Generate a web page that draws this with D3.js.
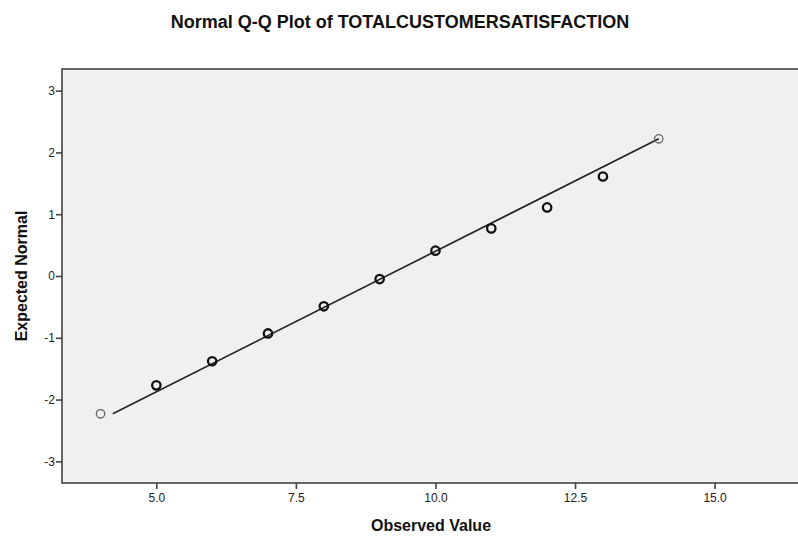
<!DOCTYPE html>
<html lang="en">
<head>
    <meta charset="UTF-8">
    <title>Normal Q-Q Plot</title>
    <script src="https://d3js.org/d3.v7.min.js"></script>
    <style>
        body { margin: 0; background: #fff; }
        text { font-family: "Liberation Sans", Arial, sans-serif; fill: #111; }
    </style>
</head>
<body>
    <div class="canvas"></div>
    <script>
      const observed = [4, 5, 6, 7, 8, 9, 10, 11, 12, 13, 14];
      const expected = [-2.23, -1.77, -1.38, -0.93, -0.49, -0.05, 0.41, 0.77, 1.11, 1.61, 2.22];
      // points drawn in a lighter grey (single cases)
      const lightPts = [4, 14];
      // reference line end points
      const lineX = [4.22, 14];
      const lineY = [-2.23, 2.22];
      const xTicks = [5, 7.5, 10, 12.5, 15];
      const yTicks = [-3, -2, -1, 0, 1, 2, 3];

      const width = 798;
      const height = 538;
      const [mt, mb, ml, mr] = [69, 55, 62, -2];

      const svg = d3.select('.canvas')
                      .append('svg')
                      .attr('width', width)
                      .attr('height', height);

      const x = d3.scaleLinear()
                    .domain([3.31, 16.53])
                    .range([ml, width - mr]);

      const y = d3.scaleLinear()
                    .domain([-3.35, 3.35])
                    .range([height - mb, mt]);

      // plot background + frame
      svg.append('rect')
          .attr('x', ml)
          .attr('y', mt)
          .attr('width', width - mr - ml)
          .attr('height', height - mb - mt)
          .style('fill', '#f0f0f0')
          .style('stroke', '#444')
          .style('stroke-width', 1.6);

      const xAxis = d3.axisBottom(x)
                        .tickValues(xTicks)
                        .tickSize(6)
                        .tickSizeOuter(0)
                        .tickFormat(d3.format('.1f'));
      const yAxis = d3.axisLeft(y)
                        .tickValues(yTicks)
                        .tickSize(6)
                        .tickSizeOuter(0)
                        .tickFormat(d => d);

      const xAxisG = svg.append('g')
                          .attr('transform', `translate(0, ${height - mb})`)
                          .call(xAxis);
      const yAxisG = svg.append('g')
                          .attr('transform', `translate(${ml}, 0)`)
                          .call(yAxis);

      [xAxisG, yAxisG].forEach(g => {
        g.select('.domain').remove();
        g.selectAll('line').style('stroke', '#444').style('stroke-width', 1.6);
        g.selectAll('text')
          .style('font-family', '"Liberation Sans", Arial, sans-serif')
          .style('font-size', '12px')
          .style('fill', '#222');
      });
      xAxisG.selectAll('text').attr('y', 10);
      yAxisG.selectAll('text').attr('x', -7);

      // reference line
      const line = d3.line()
                        .x(d => x(d[0]))
                        .y(d => y(d[1]));
      svg.append('path')
          .attr('d', line(d3.zip(lineX, lineY)))
          .attr('fill', 'none')
          .attr('stroke', '#222')
          .attr('stroke-width', 1.6);

      // points
      svg.selectAll('circle')
          .data(d3.zip(observed, expected))
          .enter()
          .append('circle')
          .attr('cx', d => x(d[0]))
          .attr('cy', d => y(d[1]))
          .attr('r', 4.2)
          .style('fill', 'none')
          .style('stroke', d => lightPts.includes(d[0]) ? '#666' : '#111')
          .style('stroke-width', d => lightPts.includes(d[0]) ? 1.3 : 2.3);

      // title and axis titles
      svg.append('text')
          .attr('x', 400)
          .attr('y', 28)
          .attr('text-anchor', 'middle')
          .style('font-size', '18px')
          .style('font-weight', 'bold')
          .text('Normal Q-Q Plot of TOTALCUSTOMERSATISFACTION');

      svg.append('text')
          .attr('x', (ml + width - mr) / 2)
          .attr('y', 531)
          .attr('text-anchor', 'middle')
          .style('font-size', '16px')
          .style('font-weight', 'bold')
          .text('Observed Value');

      svg.append('text')
          .attr('transform', `translate(27, ${(mt + height - mb) / 2}) rotate(-90)`)
          .attr('text-anchor', 'middle')
          .style('font-size', '16px')
          .style('font-weight', 'bold')
          .text('Expected Normal');
    </script>
</body>
</html>
